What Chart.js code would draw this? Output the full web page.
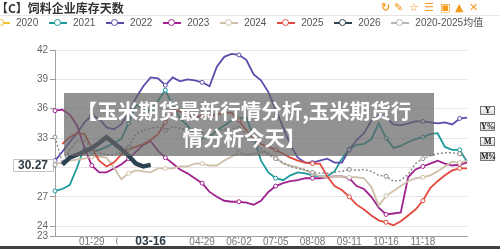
<!DOCTYPE html>
<html><head><meta charset="utf-8">
<script src="https://cdn.jsdelivr.net/npm/chart.js@4.4.1/dist/chart.umd.min.js"></script>
<style>
html,body{margin:0;padding:0;background:#fff;overflow:hidden;}
#wrap{position:relative;width:500px;height:249px;overflow:hidden;font-family:"Liberation Sans",Arial,"Noto Sans CJK SC",sans-serif;}
#c{position:absolute;left:0;top:0;}
#title{position:absolute;left:-4px;top:0;line-height:16px;font-weight:bold;font-size:12px;font-family:"Noto Sans CJK SC",sans-serif;color:#333;white-space:nowrap;}
#sep{position:absolute;left:0;top:15px;width:500px;height:1px;background:#e6e6e6;}
#tools{position:absolute;top:1px;left:0;width:500px;height:14px;}
#tools span{position:absolute;top:0;font:bold 11px "DejaVu Sans";color:#f39a1e;line-height:14px;}
#legend{position:absolute;left:-8px;top:17px;display:flex;align-items:center;white-space:nowrap;}
.li{display:flex;align-items:center;margin-right:10.8px;font-size:10px;line-height:12px;color:#555;font-family:"Liberation Sans","Noto Sans CJK SC",sans-serif;}
.sym{position:relative;width:18px;height:10px;display:inline-block;}
.sym::before{content:'';position:absolute;left:0;right:0;top:4px;height:1.5px;background:var(--c);}
.sym::after{content:'';position:absolute;left:5px;top:1px;width:5px;height:5px;border:1.5px solid var(--c);border-radius:50%;background:#fff;}
.li .t{margin-left:6px;}
#banner{position:absolute;left:64px;top:93px;width:370px;height:63px;box-sizing:border-box;padding-top:3.5px;padding-right:10px;background:rgba(100,100,100,0.7);color:#fff;font-weight:bold;font-size:20.5px;line-height:27px;text-align:center;font-family:"Noto Sans CJK SC",sans-serif;white-space:nowrap;}
.yb{position:absolute;left:480px;width:15px;height:9px;box-sizing:border-box;border:1px solid #777;background:linear-gradient(#fff,#d8d8d8);font:bold 8px "Liberation Serif",serif;color:#111;line-height:7px;text-align:center;letter-spacing:-0.5px;}
#bottom{position:absolute;left:0;top:246px;width:500px;height:3px;background:#404040;}
</style></head><body>
<div id="wrap">
<canvas id="c" width="500" height="249"></canvas>
<div id="title">【C】饲料企业库存天数</div>
<div id="tools">
<span style="left:381px">↻</span><span style="left:394px">✎</span><span style="left:409px">☆</span><span style="left:424px">☰</span><span style="left:440px">▣</span><span style="left:455px">▲</span><span style="left:469px">✕</span>
</div>
<div id="sep"></div>
<div id="legend"></div>
<div id="banner"><div>【玉米期货最新行情分析,玉米期货行</div><div>情分析今天】</div></div>
<div class="yb" style="top:106px">Y</div>
<div class="yb" style="top:122px">Y%</div>
<div class="yb" style="top:137px">M</div>
<div class="yb" style="top:152px">M%</div>
<div id="bottom"></div>
</div>
<script>
// ---- data ----
const dates = ["01-02","01-08","01-13","01-18","01-23","01-29","02-05","02-12","02-19","02-24",
"02-28","03-05","03-10","03-16","03-22","03-28","04-03","04-09","04-16","04-22",
"04-29","05-06","05-13","05-20","05-27","06-02","06-09","06-16","06-22","06-28",
"07-05","07-12","07-18","07-25","08-01","08-08","08-15","08-22","08-28","09-04",
"09-11","09-18","09-25","10-02","10-09","10-16","10-23","10-30","11-05","11-12",
"11-18","11-25","12-02","12-09","12-16","12-23","12-30"];
const shownDates = ["01-29","02-28","03-28","04-29","06-02","07-05","08-08","09-11","10-16","11-18"];
const yTicks = [23,24,27,30,33,36,39,42];
const seriesNames = ["2020","2021","2022","2023","2024","2025","2026","2020-2025均值"];

const s2020 = [];
const s2021 = [27.6,27.8,28.2,30.0,32.1,31.6,31.8,32.1,32.5,32.9,
34.5,36.4,36.0,35.8,36.8,37.9,36.3,35.0,34.3,33.3,
33.1,33.0,33.8,34.3,34.8,35.0,35.1,33.1,30.7,29.5,
28.9,28.7,29.2,29.5,29.4,29.2,29.1,29.1,29.6,30.9,
31.9,32.3,32.4,32.9,34.5,33.0,32.0,32.2,32.6,32.9,
33.1,33.4,33.5,32.1,31.8,31.8,30.6];
const s2022 = [30.7,31.6,32.6,33.5,34.6,35.3,35.0,34.1,33.9,34.4,
35.6,37.1,38.3,39.2,39.1,38.4,39.2,38.8,39.0,38.9,
38.7,38.3,40.3,41.3,41.6,41.5,41.0,39.5,38.9,37.7,
35.9,34.1,32.3,31.0,30.5,30.5,30.7,30.9,30.5,30.5,
31.8,32.8,33.5,34.8,35.3,35.1,34.4,34.3,34.5,34.7,
34.7,34.6,34.5,34.6,34.4,35.0,35.1];
const s2023 = [35.8,35.9,35.4,34.3,32.0,30.2,29.5,29.5,29.9,30.3,
30.9,31.6,32.3,32.7,31.7,31.0,30.4,29.8,29.4,28.9,
28.4,27.5,27.0,26.6,26.5,26.5,26.4,26.2,26.6,27.5,
28.1,28.4,28.6,28.7,28.9,28.9,28.9,29.0,29.1,29.1,
28.9,28.1,27.8,27.0,25.9,25.2,25.3,25.4,29.0,29.8,
30.1,30.4,30.7,30.4,30.2,30.3,30.5];
const s2024 = [30.4,30.5,30.7,30.8,30.9,31.1,31.1,31.0,30.0,28.8,
29.4,29.7,29.6,29.5,29.9,29.9,29.9,30.1,30.1,30.4,
30.4,30.2,30.2,30.7,31.1,31.5,31.3,31.4,31.6,31.5,
31.0,30.4,30.2,30.0,29.7,29.4,29.1,29.0,29.1,29.1,
29.0,29.0,28.9,28.0,26.1,27.1,27.6,28.1,28.6,28.9,
29.0,29.2,29.6,30.1,30.6,30.5,30.7];
const s2025 = [null,32.4,33.1,33.5,33.4,32.0,30.7,30.1,30.5,31.3,
31.9,32.1,32.4,32.8,33.4,34.6,35.9,35.7,35.4,35.2,
35.2,35.3,35.4,35.6,35.6,34.8,33.8,33.0,32.4,32.1,
31.8,31.4,31.0,30.7,30.5,30.4,30.4,29.1,28.1,27.7,
27.0,26.2,25.7,25.1,24.6,24.4,24.1,24.5,25.1,25.7,
26.6,27.9,28.6,29.2,29.7,29.9,29.9];
const s2026 = [null,30.3,31.0,31.3,31.6,32.0,32.5,33.1,32.5,31.9,31.2,30.4,30.1,30.27];
const sAvg = [33.1,30.5,31.8,32.7,32.8,32.0,31.5,31.3,31.3,31.5,
32.1,33.4,33.8,34.0,34.1,33.8,34.2,34.0,33.8,33.6,
33.4,33.3,33.6,33.9,34.0,34.0,33.4,32.6,31.9,31.3,
30.9,30.5,30.1,29.9,29.8,29.5,29.4,29.4,29.5,29.6,
29.8,29.7,29.8,29.6,29.2,29.1,28.6,28.7,29.3,30.4,
30.9,31.2,31.4,31.5,31.5,31.4,30.8];

const colors = ["#f2c12e","#1c9a9a","#5b4bad","#a0228e","#cfc0aa","#e2483b","#2c4250","#8c8c8c"];
const seriesData = [s2020,s2021,s2022,s2023,s2024,s2025,s2026,sAvg];
const drawOrder = [7,6,5,4,3,2,0,1];

const currentIndex = s2026.length - 1;
const currentValue = s2026[currentIndex];

const datasets = seriesData.map((d,k)=>{
  const isCur = k===6, isAvg = k===7;
  return {
    label: seriesNames[k],
    data: d,
    borderColor: colors[k],
    backgroundColor: colors[k],
    borderWidth: isCur ? 4.5 : (isAvg ? 1.5 : 1.8),
    borderDash: isAvg ? [2,2] : [],
    tension: 0,
    fill: false,
    order: drawOrder[k],
    pointRadius: (isCur) ? 0 : (c => (c.index % 5 === 0 ? 2 : 0)),
    pointBackgroundColor: '#fff',
    pointBorderColor: colors[k],
    pointBorderWidth: 1,
    legendColor: isAvg ? '#b5b5b5' : colors[k]
  };
});

const shownIdx = dates.map((d,i)=> shownDates.includes(d) ? i : -1).filter(i=>i>=0);

const crosshair = {
  id:'crosshair',
  afterDraw(chart){
    const {ctx, scales:{x,y}} = chart;
    const xp = x.getPixelForValue(currentIndex);
    const yp = y.getPixelForValue(currentValue);
    ctx.save();
    // x pointer label
    ctx.fillStyle = '#fff';
    ctx.fillRect(xp-33, 237, 66, 12);
    ctx.font = 'bold 12px "Liberation Sans"';
    ctx.fillStyle = '#2f3b45';
    ctx.textAlign = 'center';
    ctx.textBaseline = 'middle';
    ctx.fillText(dates[currentIndex], xp, 242);
    // y pointer label
    const bx = 13, bw = 40, bh = 12;
    ctx.fillStyle = '#fff';
    ctx.strokeStyle = '#c4c4c4';
    ctx.lineWidth = 1;
    ctx.beginPath();
    ctx.rect(bx+0.5, Math.round(yp-bh/2)+0.5, bw, bh);
    ctx.fill(); ctx.stroke();
    ctx.fillStyle = '#2f3b45';
    ctx.fillText(currentValue.toFixed(2), bx+bw/2, yp+0.5);
    ctx.beginPath();
    ctx.arc(55, yp, 2, 0, Math.PI*2);
    ctx.fillStyle = '#fff'; ctx.fill();
    ctx.strokeStyle = '#999'; ctx.stroke();
    ctx.restore();
  }
};

const chart = new Chart(document.getElementById('c'), {
  type:'line',
  data:{labels:dates, datasets},
  options:{
    responsive:false, animation:false, devicePixelRatio:1,
    layout:{padding:{top:50,right:33,left:0,bottom:0}},
    plugins:{legend:{display:false}, tooltip:{enabled:false}, title:{display:false}},
    scales:{
      x:{
        type:'category', offset:false,
        grid:{drawOnChartArea:false, drawTicks:true, tickLength:3,
          tickColor: c => shownIdx.includes(c.index) ? '#999' : 'rgba(0,0,0,0)'},
        border:{color:'#a0a0a0'},
        ticks:{autoSkip:false, maxRotation:0, minRotation:0, padding:-3, color:'#777',
          font:{size:10, family:'Liberation Sans'},
          callback:(v,i)=> shownDates.includes(dates[i]) ? dates[i] : ''},
        afterFit: s => { s.height = 13; }
      },
      y:{
        min:23, max:42,
        afterBuildTicks: s => { s.ticks = yTicks.map(v=>({value:v})); },
        grid:{color: c => (c.tick && c.tick.value===23) ? 'rgba(0,0,0,0)' : '#e6e6e6', tickLength:5, tickColor:'#999'},
        border:{color:'#a0a0a0'},
        ticks:{padding:2, color:'#666', font:{size:10, family:'Liberation Sans'}},
        afterFit: s => { s.width = 55; }
      }
    }
  },
  plugins:[crosshair]
});

// HTML legend built from the chart's datasets
const leg = document.getElementById('legend');
chart.data.datasets.forEach(ds=>{
  const item = document.createElement('div'); item.className='li';
  const sym = document.createElement('span'); sym.className='sym';
  sym.style.setProperty('--c', ds.legendColor);
  const t = document.createElement('span'); t.className='t'; t.textContent = ds.label;
  item.appendChild(sym); item.appendChild(t); leg.appendChild(item);
});
</script>
</body></html>
